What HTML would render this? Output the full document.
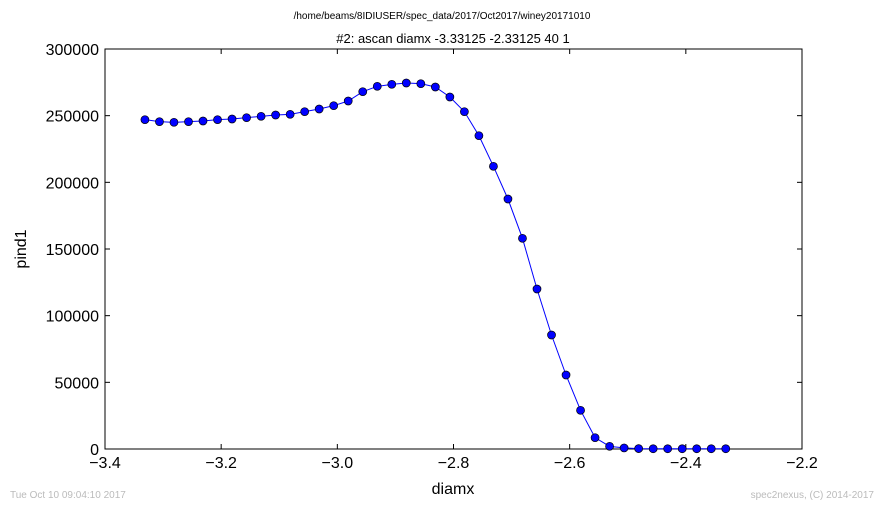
<!DOCTYPE html>
<html><head><meta charset="utf-8"><style>
body{margin:0;background:#fff;width:884px;height:509px;overflow:hidden}
svg text{font-family:"Liberation Sans","DejaVu Sans",sans-serif}
</style></head><body>
<svg id="chart" width="884" height="509" xmlns="http://www.w3.org/2000/svg">
<text x="442" y="19" font-size="10" text-anchor="middle">/home/beams/8IDIUSER/spec_data/2017/Oct2017/winey20171010</text>
<text x="453" y="43" font-size="13" text-anchor="middle">#2: ascan  diamx -3.33125 -2.33125  40 1</text>
<g id="axes"></g>
<g id="series"></g>
<text x="453" y="494" font-size="16" text-anchor="middle">diamx</text>
<text x="26" y="249" font-size="16" text-anchor="middle" transform="rotate(-90 26 249)">pind1</text>
<text x="10" y="498" font-size="10" fill="#bbb">Tue Oct 10 09:04:10 2017</text>
<text x="874" y="498" font-size="10" fill="#bbb" text-anchor="end">spec2nexus, (C) 2014-2017</text>
</svg>
<script>
const xTicks=[-3.4,-3.2,-3.0,-2.8,-2.6,-2.4,-2.2];
const xTickLabels=["\u22123.4","\u22123.2","\u22123.0","\u22122.8","\u22122.6","\u22122.4","\u22122.2"];
const yTicks=[0,50000,100000,150000,200000,250000,300000];
const yTickLabels=["0","50000","100000","150000","200000","250000","300000"];
const xStart=-3.33125, xStep=0.025;
const pind1=[247000,245500,245000,245500,246000,247000,247500,248500,249500,250500,251000,253000,255000,257500,261000,268000,272000,273500,274500,274000,271500,264000,253000,235000,212000,187500,158000,120000,85500,55500,29000,8500,2000,800,300,200,200,200,200,200,200];
const L=105,R=802,T=49,B=449;
const xs=v=>L+(v-(-3.4))/1.2*(R-L);
const ys=v=>B-v/300000*(B-T);
const NS="http://www.w3.org/2000/svg";
const ax=document.getElementById('axes'), se=document.getElementById('series');
function mk(p,tag,at){const e=document.createElementNS(NS,tag);for(const k in at)e.setAttribute(k,at[k]);p.appendChild(e);return e;}
const frame=mk(ax,'rect',{x:L,y:T,width:R-L,height:B-T,fill:'none',stroke:'#000','stroke-width':1});


xTicks.forEach((v,i)=>{const x=xs(v);
 mk(ax,'line',{x1:x,x2:x,y1:B,y2:B-5,stroke:'#000'});mk(ax,'line',{x1:x,x2:x,y1:T,y2:T+5,stroke:'#000'});
 const t=mk(ax,'text',{x:x,y:B+19,'font-size':16,'text-anchor':'middle'});t.textContent=xTickLabels[i];
 
 });
yTicks.forEach((v,i)=>{const y=ys(v);
 mk(ax,'line',{x1:L,x2:L+5,y1:y,y2:y,stroke:'#000'});mk(ax,'line',{x1:R,x2:R-5,y1:y,y2:y,stroke:'#000'});
 const t=mk(ax,'text',{x:L-6,y:y+6,'font-size':16,'text-anchor':'end'});t.textContent=yTickLabels[i];
 
 });
const pts=pind1.map((v,i)=>[xs(xStart+i*xStep),ys(v)]);
const line=mk(se,'polyline',{points:pts.map(p=>p.join(',')).join(' '),fill:'none',stroke:'#0000ff','stroke-width':1});


pts.forEach(p=>{const c=mk(se,'circle',{cx:p[0],cy:p[1],r:4,fill:'#0000ff',stroke:'#000','stroke-width':0.7});
 
 });
</script>
</body></html>
